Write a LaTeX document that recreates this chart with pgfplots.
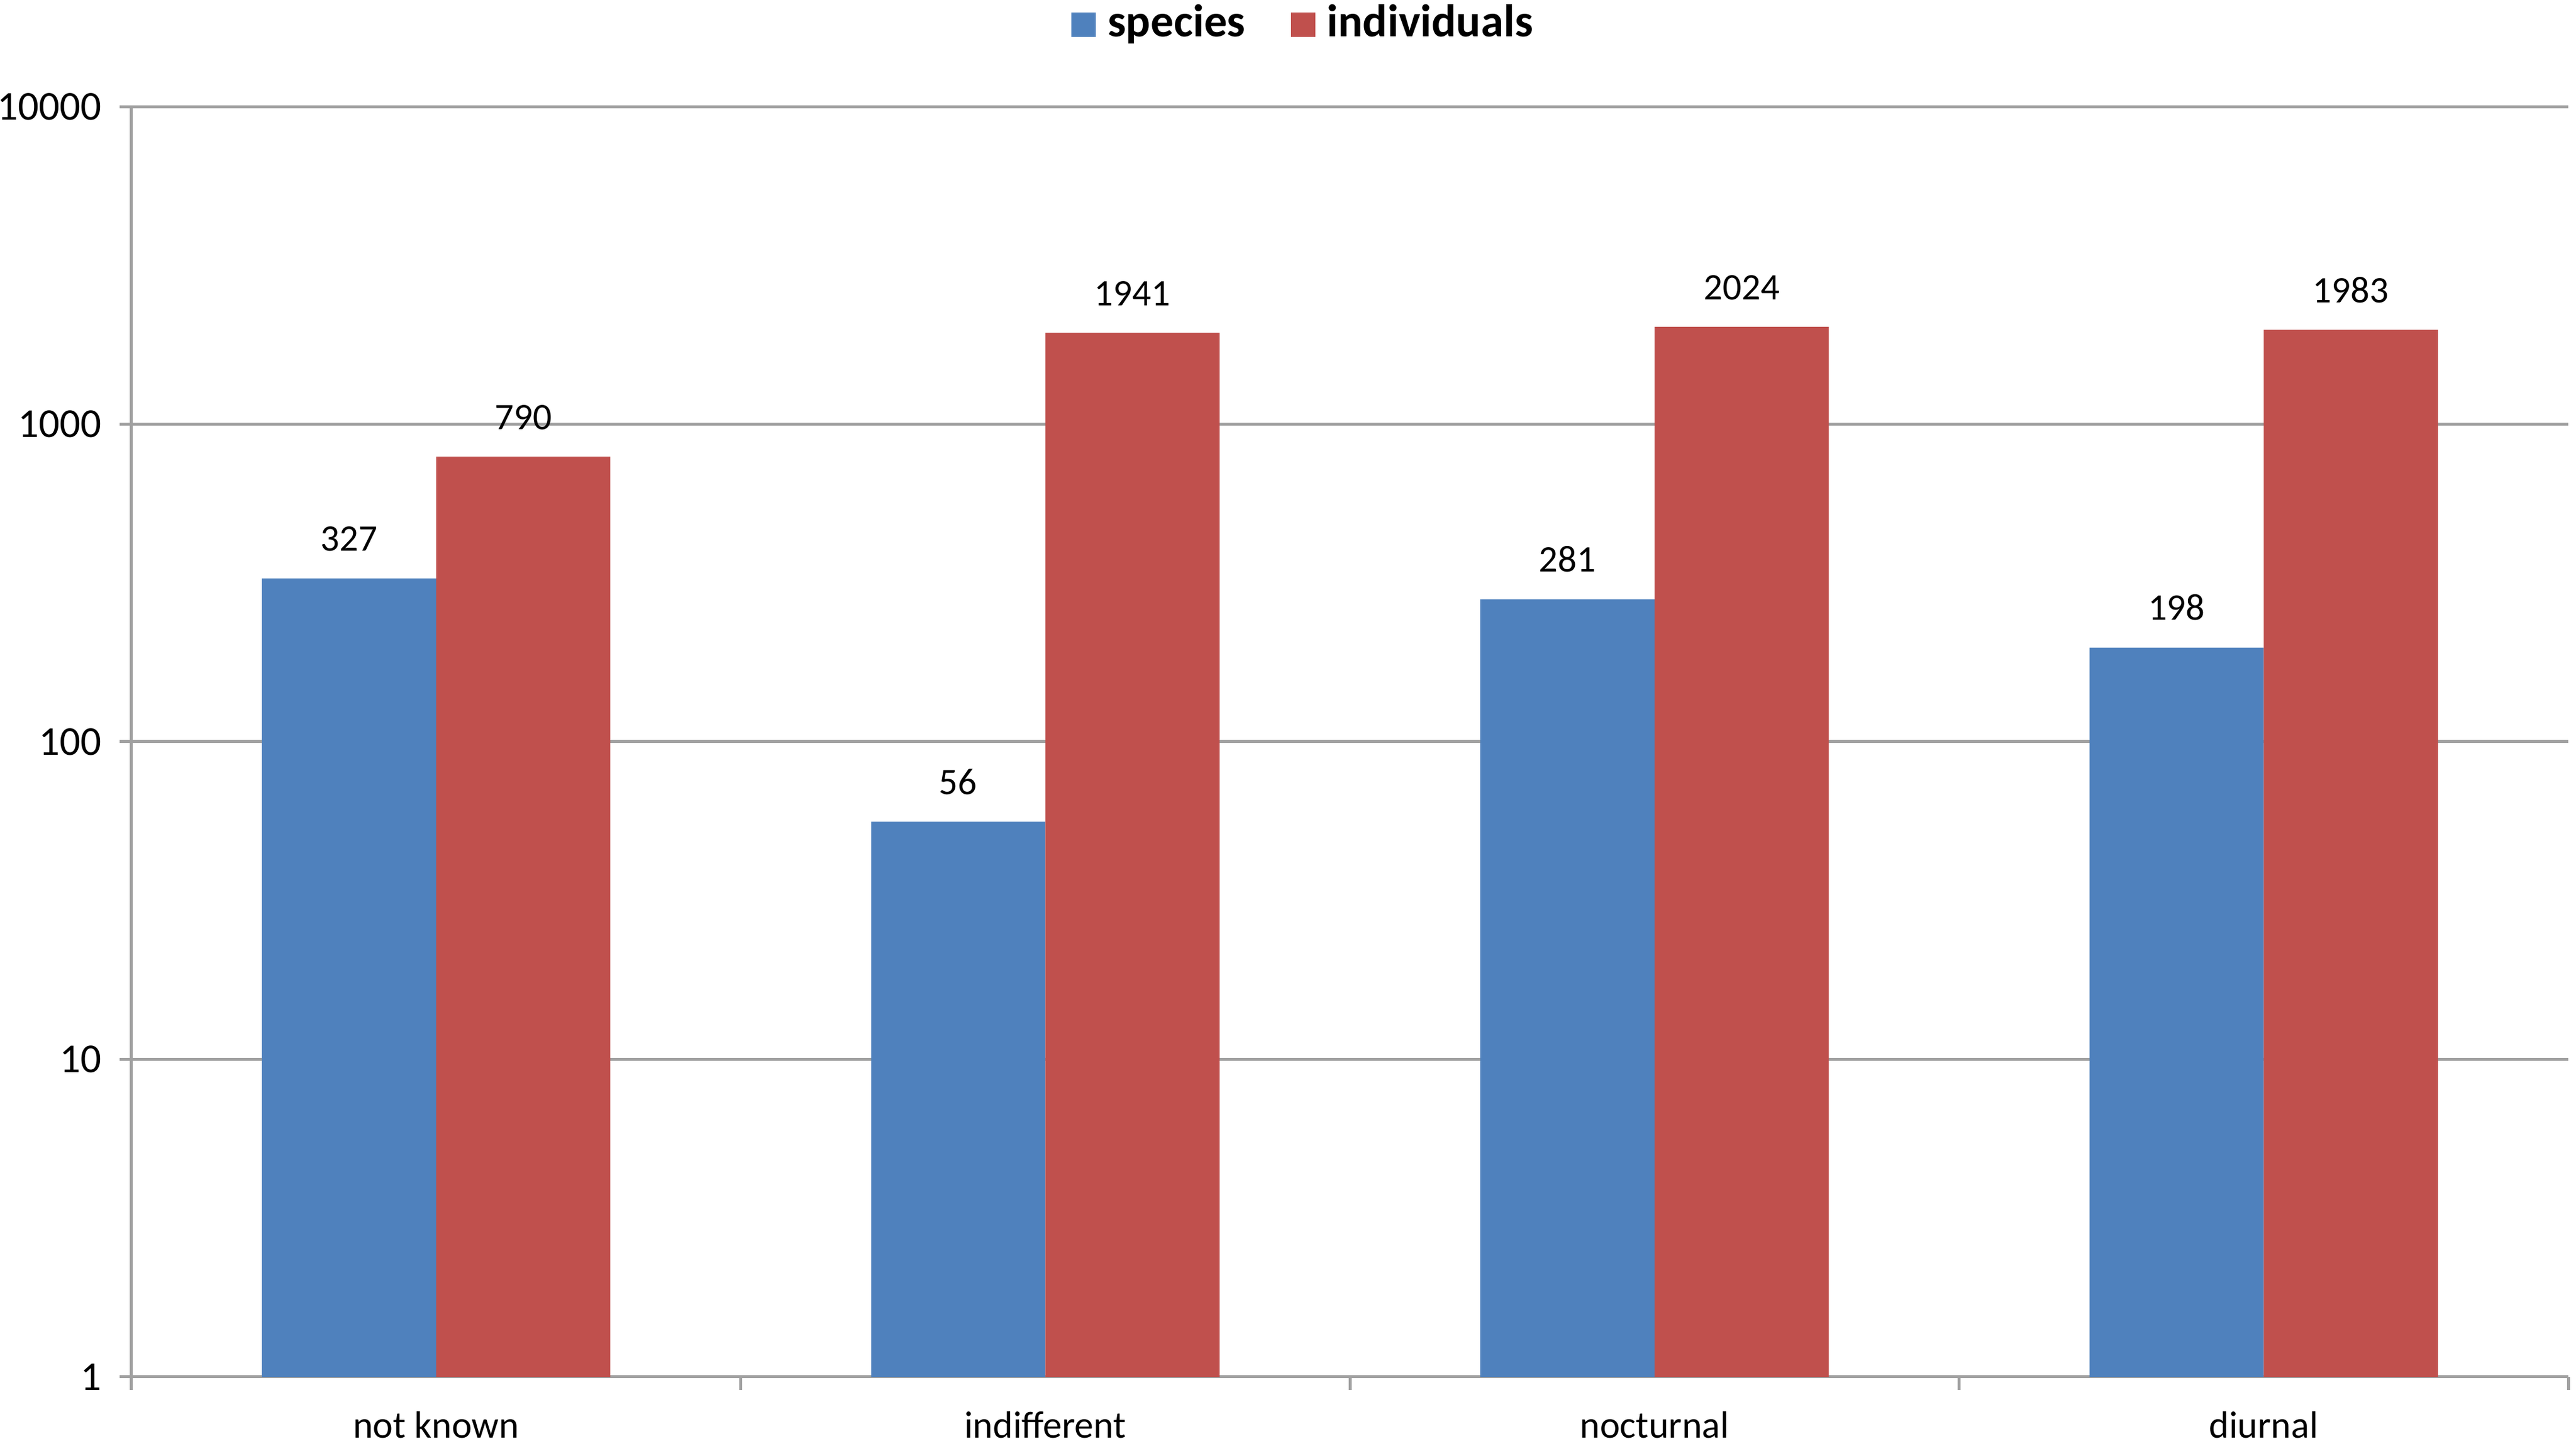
\documentclass[border=0pt]{standalone}
\usepackage{fontspec}
\setmainfont{Carlito}
\usepackage{pgfplots}
\pgfplotsset{compat=1.18}
\definecolor{barblue}{HTML}{4F81BD}
\definecolor{barred}{HTML}{C0504D}
\definecolor{axgray}{HTML}{A0A0A0}
\begin{document}
\begin{tikzpicture}
\begin{axis}[
  scale only axis, width=409.4pt, height=213.4pt,
  at={(0,0)}, anchor=south west,
  ybar=0pt, bar width=0.286,
  ymode=log, ymin=1, ymax=10000,
  xmin=-0.5, xmax=3.5,
  ytick={1,10,100,1000,10000},
  yminorticks=false,
  log ticks with fixed point,
  /pgf/number format/assume math mode=true,
  /pgf/number format/1000 sep={},
  xtick={0,1,2,3},
  xticklabels={not known, indifferent, nocturnal, diurnal},
  xtick style={draw=none},
  extra x ticks={-0.5,0.5,1.5,2.5,3.5},
  extra x tick labels={},
  extra x tick style={xtick style={draw=axgray, line width=0.5pt}, major tick length=2.2pt},
  ytick style={draw=axgray, line width=0.5pt},
  major tick length=2pt,
  tick align=outside,
  axis x line*=bottom, axis y line*=left,
  axis line style={draw=axgray, line width=0.5pt},
  ymajorgrids,
  major grid style={draw=axgray, line width=0.5pt},
  xticklabel style={font=\fontsize{6.4}{7.7}\selectfont, yshift=-0.3pt},
  yticklabel style={font=\fontsize{6.9}{8.2}\selectfont, xshift=0.5pt},
  point meta=explicit symbolic,
  nodes near coords,
  every node near coord/.append style={font=\fontsize{6.3}{7.6}\selectfont, black, yshift=1pt},
  legend style={at={(0.4829,1.0643)}, anchor=center, draw=none, fill=none,
    font=\bfseries\fontsize{7.7}{9}\selectfont, inner sep=0pt,
    /tikz/every even column/.append style={column sep=5.6pt}},
  legend columns=2,
  legend image code/.code={\fill[#1] (0pt,-2.05pt) rectangle (4.1pt,2.05pt);},
]
\addplot[fill=barblue, draw=none]
  coordinates {(0,327) [327] (1,56) [56] (2,281) [281] (3,198) [198]};
\addlegendentry{species}
\addplot[fill=barred, draw=none]
  coordinates {(0,790) [790] (1,1941) [1941] (2,2024) [2024] (3,1983) [1983]};
\addlegendentry{individuals}
\end{axis}
\pgfresetboundingbox
\path[use as bounding box] (-22.1pt,-11.6pt) rectangle (410.7pt,231.3pt);
\end{tikzpicture}
\end{document}
